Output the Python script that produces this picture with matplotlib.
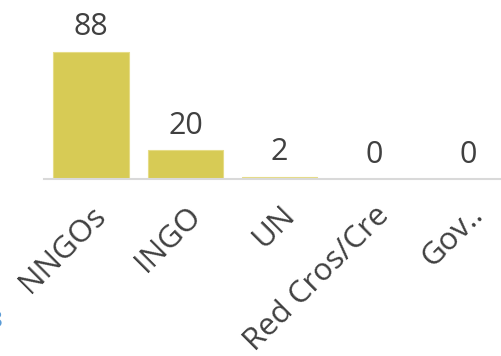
import matplotlib
matplotlib.use("Agg")
import matplotlib.pyplot as plt

# data
categories = ["NNGOs", "INGO", "UN", "Red Cros/Cre", "Gov.."]
values = [88, 20, 2, 0, 0]
labels = ["88", "20", "2", "0", "0"]

bar_color = "#D7CB55"
text_color = "#404040"

plt.rcParams['font.family'] = ['Open Sans', 'DejaVu Sans']

fig = plt.figure(figsize=(5.02, 3.56), dpi=100, facecolor='white')
ax = fig.add_axes([0.0876, 0.496, 0.939, 0.504])

x = range(len(categories))
ax.bar(x, values, width=0.8, color=bar_color, edgecolor="#E6DC86", linewidth=0.8)

for i, v in enumerate(values):
    ax.annotate(labels[i], (i, v), xytext=(0, 7), textcoords="offset points",
                ha="center", va="bottom", fontsize=22, color=text_color)

ax.set_xlim(-0.5, 4.5)
ax.set_ylim(0, 124)
ax.set_yticks([])
ax.set_xticks(list(x))
ax.set_xticklabels(categories, rotation=45, ha="right", rotation_mode="anchor",
                   fontsize=22.5, color=text_color)
ax.tick_params(axis='x', length=0, pad=15)

for s in ["top", "right", "left"]:
    ax.spines[s].set_visible(False)
ax.spines["bottom"].set_color("#D9D9D9")
ax.spines["bottom"].set_linewidth(1.5)

# clipped label at the left edge
fig.text(-0.02, 0.096, "8", color="#5B9BD5", fontsize=16, ha="left", va="center")

fig.savefig("out.png", dpi=100, facecolor='white')
